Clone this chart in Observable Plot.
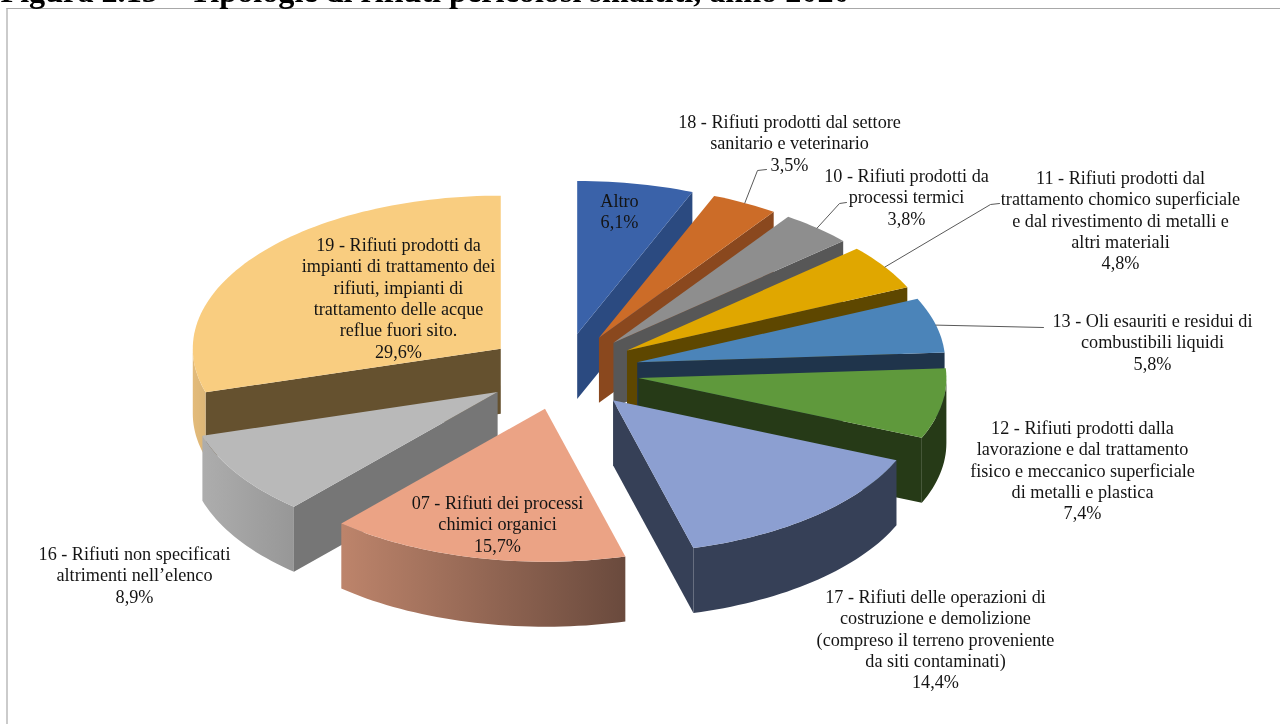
<!DOCTYPE html>
<html><head><meta charset="utf-8">
<script src="https://cdn.jsdelivr.net/npm/d3@7"></script>
<script src="https://cdn.jsdelivr.net/npm/@observablehq/plot@0.6"></script>
<style>html,body{margin:0;padding:0;background:#fff;overflow:hidden} svg{display:block;filter:blur(0.45px)}</style>
</head><body><div id="chart"></div>
<script>
const titleText = "Figura 2.15 – Tipologie di rifiuti pericolosi smaltiti, anno 2020";
const codes = ["Altro","18","10","11","13","12","17","07","16","19"];
const values = [6.1,3.5,3.8,4.8,5.8,7.4,14.4,15.7,8.9,29.6];
const labels = [
 "Altro\n6,1%",
 "18 - Rifiuti prodotti dal settore\nsanitario e veterinario\n3,5%",
 "10 - Rifiuti prodotti da\nprocessi termici\n3,8%",
 "11 - Rifiuti prodotti dal\ntrattamento chomico superficiale\ne dal rivestimento di metalli e\naltri materiali\n4,8%",
 "13 - Oli esauriti e residui di\ncombustibili liquidi\n5,8%",
 "12 - Rifiuti prodotti dalla\nlavorazione e dal trattamento\nfisico e meccanico superficiale\ndi metalli e plastica\n7,4%",
 "17 - Rifiuti delle operazioni di\ncostruzione e demolizione\n(compreso il terreno proveniente\nda siti contaminati)\n14,4%",
 "07 - Rifiuti dei processi\nchimici organici\n15,7%",
 "16 - Rifiuti non specificati\naltrimenti nell’elenco\n8,9%",
 "19 - Rifiuti prodotti da\nimpianti di trattamento dei\nrifiuti, impianti di\ntrattamento delle acque\nreflue fuori sito.\n29,6%"
];
const topColors  = ["#3a62a9","#cc6c28","#8e8e8e","#e0a700","#4b84b9","#5f993c","#8c9fd1","#eba385","#b9b9b9","#f9cd80"];
const faceColors = ["#2b4a80","#8a481e","#575757","#5e4700","#1f344b","#263a17","#364057","#6a4a3d","#767676","#65512f"];
const rimLeft    = ["#2b4a80","#8a481e","#575757","#5e4700","#1f344b","#263a17","#364057","#bd846b","#adadad","#e3bb7a"];
const rimRight   = ["#2b4a80","#8a481e","#575757","#5e4700","#1f344b","#263a17","#364057","#6a4a3d","#979797","#dcb677"];

// label layout: centre x, first-line y
const labelX = [619,789,906,1120,1152,1082,935,497,134,398];
const labelY = [191,112,166,168,311,418,587,493,544,235];
// leader lines: elbow/end points after the anchor on the slice rim
const leaderEnds = {"18":[[757,170],[766,169]],"10":[[839,203],[846,202]],"11":[[990,204],[999,203]],"13":[[1043,327]]};

// 3D pie projection
const cx=562, cy=371, rx=308, ry=153, depth=65, explode=0.25;
const total=d3.sum(values);
let acc=0;
const slices=values.map((v,i)=>{const a0=acc/total*360; acc+=v; const a1=acc/total*360;
  const mid=(a0+a1)/2, m=mid*Math.PI/180;
  return {i,code:codes[i],a0,a1,mid,ax:cx+explode*rx*Math.sin(m),ay:cy-explode*ry*Math.cos(m)};});
const pt=(s,deg,dz=0)=>{const t=deg*Math.PI/180;return {x:s.ax+rx*Math.sin(t),y:s.ay-ry*Math.cos(t)+dz};};
const arc=(s,a,b,dz=0)=>{const n=Math.max(2,Math.ceil((b-a)/1.5));return d3.range(n+1).map(k=>pt(s,a+(b-a)*k/n,dz));};
const poly=(pts,fill)=>Plot.line(pts,{x:"x",y:"y",fill,stroke:"none",curve:"linear"});

const drawOrder=[...slices.filter(s=>s.mid>180).sort((a,b)=>b.mid-a.mid),...slices.filter(s=>s.mid<=180).sort((a,b)=>a.mid-b.mid)];
const pieMarks=drawOrder.flatMap(s=>{
  const out=[]; const A={x:s.ax,y:s.ay}, B={x:s.ax,y:s.ay+depth};
  if(s.a0>180) out.push(poly([A,pt(s,s.a0),pt(s,s.a0,depth),B],faceColors[s.i]));
  if(s.a1<180) out.push(poly([A,pt(s,s.a1),pt(s,s.a1,depth),B],faceColors[s.i]));
  const r0=Math.max(s.a0,90), r1=Math.min(s.a1,270);
  if(r1>r0) out.push(poly([...arc(s,r0,r1),...arc(s,r0,r1,depth).reverse()],`url(#rim${s.i})`));
  out.push(poly([A,...arc(s,s.a0,s.a1)],topColors[s.i]));
  return out;
});

const leaderData=slices.filter(s=>leaderEnds[s.code]).flatMap(s=>{
  const p=pt(s,s.mid);
  return [p,...leaderEnds[s.code].map(([x,y])=>({x,y}))].map(q=>({...q,code:s.code}));
});
const labelRows=slices.map(s=>({t:labels[s.i],x:labelX[s.i],y:labelY[s.i]}));

const chart=Plot.plot({
  width:1280,height:724,margin:0,
  x:{domain:[0,1280],range:[0,1280],axis:null},
  y:{domain:[0,724],range:[0,724],axis:null},
  marks:[
    Plot.ruleY([8],{stroke:"#a8a8a8",strokeWidth:1.2,x1:6.5,x2:1280}),
    Plot.ruleX([6.5],{y1:8,y2:724,stroke:"#a8a8a8",strokeWidth:1.2}),
    Plot.text([titleText],{x:()=>0,y:()=>1,text:d=>d,textAnchor:"start",lineAnchor:"bottom",fontFamily:"Liberation Serif",fontWeight:"bold",fontSize:32.2,fill:"#000"}),
    ...pieMarks,
    Plot.line(leaderData,{x:"x",y:"y",z:"code",stroke:"#595959",strokeWidth:1}),
    Plot.text(labelRows,{x:"x",y:"y",text:"t",lineAnchor:"top",textAnchor:"middle",fontFamily:"Liberation Serif",fontSize:18.2,lineHeight:1.178,fill:"#141414"})
  ]
});
const defs=slices.map(s=>`<linearGradient id="rim${s.i}" x1="0" x2="1" y1="0" y2="0"><stop offset="0" stop-color="${rimLeft[s.i]}"/><stop offset="1" stop-color="${rimRight[s.i]}"/></linearGradient>`).join("");
chart.insertAdjacentHTML("afterbegin",`<defs>${defs}</defs>`);
document.getElementById("chart").append(chart);
</script></body></html>
